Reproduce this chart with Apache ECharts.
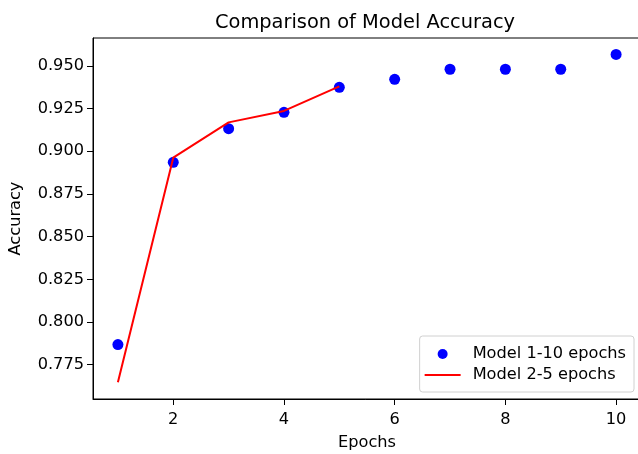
<!DOCTYPE html>
<html>
<head>
<meta charset="utf-8">
<script src="https://cdn.jsdelivr.net/npm/echarts@6/dist/echarts.min.js"></script>
<style>
html,body{margin:0;padding:0;background:#fff;}
#chart{width:638px;height:454px;}
</style>
</head>
<body>
<div id="chart"></div>
<script>
const epochs = [1, 2, 3, 4, 5, 6, 7, 8, 9, 10];
const model1Acc = [0.7868, 0.8935, 0.9132, 0.9228, 0.9374, 0.9421, 0.948, 0.948, 0.948, 0.9567];
const model2Epochs = [1, 2, 3, 4, 5];
const model2Acc = [0.7647, 0.8962, 0.9169, 0.9236, 0.9380];
const xTicks = [2, 4, 6, 8, 10];
const yTicks = [0.775, 0.800, 0.825, 0.850, 0.875, 0.900, 0.925, 0.950];

const font = 'DejaVu Sans';
const fs = 16.2;
const chart = echarts.init(document.getElementById('chart'), null, {renderer: 'canvas'});
chart.setOption({
  animation: false,
  backgroundColor: '#fff',
  textStyle: {fontFamily: font},
  title: {
    text: 'Comparison of Model Accuracy',
    left: 360, top: 8, textAlign: 'center',
    textStyle: {fontFamily: font, fontSize: 19.4, fontWeight: 'normal', color: '#000'}
  },
  grid: {
    left: 93, top: 38, right: -3, bottom: 55,
    outerBoundsMode: 'none', containLabel: false,
    show: true, borderColor: '#000', borderWidth: 1, backgroundColor: 'transparent'
  },
  legend: {
    orient: 'vertical', right: 4, top: 336,
    padding: [10, 8, 9, 5],
    itemGap: 5, itemWidth: 36, itemHeight: 10,
    borderColor: '#d0d0d0', borderWidth: 1, borderRadius: 3,
    backgroundColor: '#fff',
    textStyle: {fontFamily: font, fontSize: fs, color: '#000', padding: [0, 0, 0, 7]},
    data: [
      {name: 'Model 1-10 epochs', icon: 'circle'},
      {name: 'Model 2-5 epochs', icon: 'path://M0,4L36,4L36,6L0,6Z'}
    ]
  },
  xAxis: {
    type: 'value', min: 0.55, max: 10.45,
    name: 'Epochs', nameLocation: 'middle', nameGap: 36,
    nameTextStyle: {fontFamily: font, fontSize: fs, color: '#000'},
    axisLine: {show: true, onZero: false, lineStyle: {color: '#000', width: 1}},
    axisTick: {show: true, length: 6, lineStyle: {color: '#000'}, customValues: xTicks},
    axisLabel: {fontFamily: font, fontSize: fs, color: '#000', margin: 13, customValues: xTicks},
    splitLine: {show: false}
  },
  yAxis: {
    type: 'value', min: 0.7549, max: 0.9663,
    name: 'Accuracy', nameLocation: 'middle', nameGap: 69,
    nameTextStyle: {fontFamily: font, fontSize: fs, color: '#000'},
    axisLine: {show: true, onZero: false, lineStyle: {color: '#000', width: 1}},
    axisTick: {show: true, length: 6, lineStyle: {color: '#000'}, customValues: yTicks},
    axisLabel: {fontFamily: font, fontSize: fs, color: '#000', margin: 9, customValues: yTicks,
      formatter: v => v.toFixed(3)},
    splitLine: {show: false}
  },
  series: [
    {
      name: 'Model 1-10 epochs', type: 'scatter', symbol: 'circle', symbolSize: 11,
      itemStyle: {color: '#0000ff', opacity: 1},
      data: epochs.map((e, i) => [e, model1Acc[i]]),
      z: 2
    },
    {
      name: 'Model 2-5 epochs', type: 'line', symbol: 'none', showSymbol: false,
      lineStyle: {color: '#ff0000', width: 2},
      itemStyle: {color: '#ff0000'},
      data: model2Epochs.map((e, i) => [e, model2Acc[i]]),
      z: 3
    }
  ]
});
</script>
</body>
</html>
